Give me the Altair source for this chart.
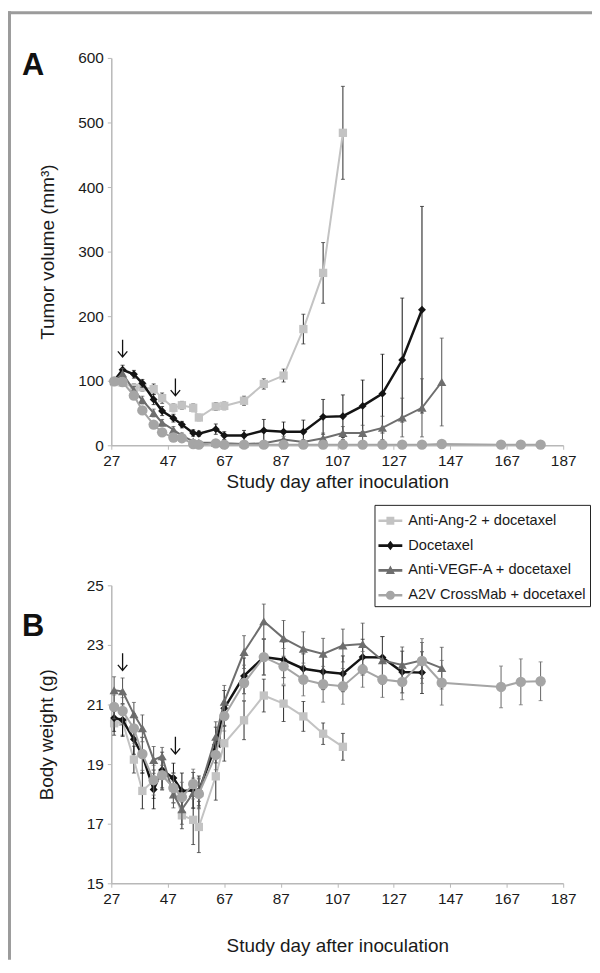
import altair as alt
import pandas as pd

# ---------------- data ----------------
SERIES = ["Anti-Ang-2 + docetaxel", "Docetaxel", "Anti-VEGF-A + docetaxel", "A2V CrossMab + docetaxel"]
COLORS = ["#c3c3c3", "#141414", "#6e6e6e", "#a5a5a5"]
ERR_COLORS = ["#2a2a2a", "#111111", "#4f4f4f", "#666666"]
SHAPES = ["square", "diamond", "triangle-up", "circle"]
MARKER_SIZES = [70, 64, 85, 110]
LINE_WIDTHS = [2, 2.5, 2, 2]
LEGEND_PATHS = [
    "M-1,-0.11L1,-0.11L1,0.11L-1,0.11Z M-0.33,-0.33L0.33,-0.33L0.33,0.33L-0.33,0.33Z",
    "M-1,-0.12L1,-0.12L1,0.12L-1,0.12Z M0,-0.4L0.3,0L0,0.4L-0.3,0Z",
    "M-1,-0.11L1,-0.11L1,0.11L-1,0.11Z M0,-0.42L0.38,0.3L-0.38,0.3Z",
    "M-1,-0.11L1,-0.11L1,0.11L-1,0.11Z M0.38,0A0.38,0.38 0 1,1 -0.38,0A0.38,0.38 0 1,1 0.38,0Z",
]
ARROW_PATH = "M0,-1L0,1M-0.55,0.35L0,1L0.55,0.35"

X_TICKS = [27, 47, 67, 87, 107, 127, 147, 167, 187]
A_Y_TICKS = [0, 100, 200, 300, 400, 500, 600]
B_Y_TICKS = [15, 17, 19, 21, 23, 25]

ANG2_DAYS = [28, 31, 35, 38, 42, 45, 49, 52, 56, 58, 64, 67, 74, 81, 88, 95, 102, 109]
DOC_DAYS = [28, 31, 35, 38, 42, 45, 49, 52, 56, 58, 64, 67, 74, 81, 88, 95, 102, 109, 116, 123, 130, 137]
VEGF_DAYS = [28, 31, 35, 38, 42, 45, 49, 52, 56, 58, 64, 67, 74, 81, 88, 95, 102, 109, 116, 123, 130, 137, 144]
A2V_DAYS = [28, 31, 35, 38, 42, 45, 49, 52, 56, 58, 64, 67, 74, 81, 88, 95, 102, 109, 116, 123, 130, 137, 144,
            165, 172, 179]

# Panel A: tumor volume (mm3)
ANG2_A = [98, 97, 89, 90, 87, 73, 58, 62, 58, 43, 60, 61, 69, 95, 108, 180, 267, 484]
ANG2_A_ERR = [4, 5, 6, 6, 8, 8, 6, 6, 6, 5, 6, 6, 7, 8, 10, 23, 47, 72]
DOC_A = [100, 117, 110, 96, 71, 53, 42, 32, 19, 18, 25, 15, 15, 23, 21, 21, 44, 45, 61, 80, 132, 210]
DOC_A_ERR = [4, 7, 6, 6, 8, 7, 6, 5, 5, 4, 8, 6, 8, 17, 15, 18, 27, 33, 40, 61, 96, 160]
VEGF_A = [100, 111, 85, 70, 50, 35, 24, 15, 6, 4, 4, 3, 2, 3, 9, 5, 11, 19, 19, 27, 43, 58, 98]
VEGF_A_ERR = [4, 8, 6, 6, 6, 5, 5, 4, 3, 2, 2, 2, 2, 3, 5, 4, 8, 10, 12, 18, 30, 45, 68]
A2V_A = [99, 98, 77, 54, 32, 20, 12, 11, 2, 1, 3, 1, 1, 1, 1, 1, 1, 1, 1, 1, 1, 1, 2, 1, 1, 1]
A2V_A_ERR = [4, 5, 6, 6, 5, 4, 3, 3, 1, 1, 2, 1, 1, 1, 1, 1, 1, 1, 1, 1, 1, 1, 1, 1, 1, 1]

# Panel B: body weight (g)
ANG2_B = [20.37, 20.42, 19.15, 18.1, 18.45, 18.64, 18.2, 17.28, 17.13, 16.89, 18.59, 19.7, 20.47, 21.3, 21.03,
          20.6, 20.02, 19.58]
ANG2_B_ERR = [0.4, 0.45, 0.45, 0.6, 0.6, 0.5, 0.5, 0.45, 0.83, 0.86, 0.8, 0.6, 0.65, 0.55, 0.6, 0.5, 0.36, 0.45]
DOC_B = [20.55, 20.48, 19.83, 19.3, 18.15, 18.8, 18.53, 18.1, 18.12, 18.1, 19.64, 20.87, 21.96, 22.59, 22.5,
         22.2, 22.1, 22.03, 22.59, 22.58, 22.09, 22.07]
DOC_B_ERR = [0.45, 0.55, 0.5, 0.6, 0.65, 0.6, 0.5, 0.6, 0.6, 0.5, 0.6, 0.6, 0.6, 0.6, 0.6, 0.5, 0.6, 0.6, 0.6,
             0.7, 0.7, 0.7]
VEGF_B = [21.48, 21.44, 20.67, 20.2, 19.14, 19.26, 17.98, 17.48, 18.03, 18.03, 19.92, 21.09, 22.76, 23.79,
          23.22, 22.87, 22.7, 22.98, 23.03, 22.48, 22.33, 22.48, 22.22]
VEGF_B_ERR = [0.45, 0.45, 0.4, 0.45, 0.45, 0.3, 0.45, 0.5, 0.5, 0.5, 0.5, 0.55, 0.55, 0.58, 0.6, 0.57, 0.52,
              0.55, 0.7, 0.8, 0.6, 0.6, 0.7]
A2V_B = [20.92, 20.78, 20.2, 19.34, 18.46, 18.63, 18.2, 17.89, 18.33, 18.0, 19.31, 20.61, 21.72, 22.59, 22.28,
         21.84, 21.68, 21.61, 22.18, 21.84, 21.76, 22.46, 21.73, 21.59, 21.76, 21.78]
A2V_B_ERR = [0.4, 0.45, 0.5, 0.55, 0.5, 0.5, 0.5, 0.5, 0.5, 0.5, 0.5, 0.5, 0.6, 0.6, 0.6, 0.55, 0.6, 0.6, 0.6,
             0.6, 0.6, 0.75, 0.75, 0.7, 0.77, 0.65]

# Treatment arrows
ARROW_A_DAYS = [31, 49.7]
ARROW_A_VALUES = [150, 90]
ARROW_B_DAYS = [31, 49.7, 65.5]
ARROW_B_VALUES = [22.43, 19.63, 19.85]

FONT = "Liberation Sans"
FRAME_COLOR = "#9b9b9b"
ALL_DAYS = [ANG2_DAYS, DOC_DAYS, VEGF_DAYS, A2V_DAYS]


def long_df(vals_list, errs_list):
    rows = []
    for name, ecol, days, vals, errs in zip(SERIES, ERR_COLORS, ALL_DAYS, vals_list, errs_list):
        for d, v, e in zip(days, vals, errs):
            rows.append({"series": name, "day": d, "value": v, "lo": v - e, "hi": v + e, "ecol": ecol})
    return pd.DataFrame(rows)


df_a = long_df([ANG2_A, DOC_A, VEGF_A, A2V_A], [ANG2_A_ERR, DOC_A_ERR, VEGF_A_ERR, A2V_A_ERR])
df_b = long_df([ANG2_B, DOC_B, VEGF_B, A2V_B], [ANG2_B_ERR, DOC_B_ERR, VEGF_B_ERR, A2V_B_ERR])
arrows_a = pd.DataFrame({"day": ARROW_A_DAYS, "value": ARROW_A_VALUES})
arrows_b = pd.DataFrame({"day": ARROW_B_DAYS, "value": ARROW_B_VALUES})

LEGEND = alt.Legend(
    orient="none", legendX=265, legendY=-81, title=None,
    strokeColor="#222222", fillColor="white", padding=4, rowPadding=6,
    symbolSize=576, symbolStrokeWidth=0, symbolOpacity=1, labelLimit=400,
    labelFont=FONT, labelFontSize=14.7, labelColor="#1a1a1a", labelOffset=6,
)


def build_panel(df, ydom, yticks, ytitle, height, ytitlepad, xtitlepad, arrows_df, letter, letter_y,
                frame_rects, with_legend):
    xs = alt.Scale(domain=[27, 187], nice=False, zero=False)
    ys = alt.Scale(domain=ydom, nice=False, zero=False)
    x_axis = alt.Axis(values=X_TICKS, title="Study day after inoculation", titlePadding=xtitlepad,
                      labelPadding=4, labelFlush=False, grid=False)
    y_axis = alt.Axis(values=yticks, title=ytitle, titlePadding=ytitlepad, labelPadding=4, grid=False)

    def X(field="day:Q"):
        return alt.X(field, scale=xs, axis=x_axis)

    def Y(field):
        return alt.Y(field, scale=ys, axis=y_axis)

    one = pd.DataFrame({"k": [0]})
    layers = []
    for (x1, x2, y1, y2) in frame_rects:
        layers.append(alt.Chart(one).mark_rect(color=FRAME_COLOR).encode(
            x=alt.value(x1), x2=alt.value(x2), y=alt.value(y1), y2=alt.value(y2)))
    layers.append(alt.Chart(pd.DataFrame({"t": [letter]})).mark_text(
        font=FONT, fontSize=31, fontWeight="bold", align="left", baseline="alphabetic", color="#111111"
    ).encode(text="t:N", x=alt.value(-90), y=alt.value(letter_y)))
    layers.append(alt.Chart(arrows_df).mark_point(
        shape=ARROW_PATH, size=300, filled=False, color="#111111", strokeWidth=1.3, opacity=1
    ).encode(x=X("day:Q"), y=Y("value:Q")))

    for i, name in enumerate(SERIES):
        sdf = df[df["series"] == name]
        ecol = ERR_COLORS[i]
        layers.append(alt.Chart(sdf).mark_rule(strokeWidth=1, color=ecol).encode(
            x=X(), y=Y("lo:Q"), y2="hi:Q"))
        layers.append(alt.Chart(sdf).transform_fold(["lo", "hi"], as_=["end", "ev"]).mark_tick(
            orient="horizontal", size=4, thickness=1, color=ecol).encode(x=X(), y=Y("ev:Q")))
        layers.append(alt.Chart(sdf).mark_line(color=COLORS[i], strokeWidth=LINE_WIDTHS[i]).encode(
            x=X(), y=Y("value:Q")))
        layers.append(alt.Chart(sdf).mark_point(
            shape=SHAPES[i], filled=True, size=MARKER_SIZES[i], color=COLORS[i], opacity=1
        ).encode(x=X(), y=Y("value:Q")))

    if with_legend:
        ldf = df.groupby("series", sort=False).head(1)
        layers.append(alt.Chart(ldf).mark_point(filled=True, opacity=0, size=576).encode(
            x=X(), y=Y("value:Q"),
            color=alt.Color("series:N", scale=alt.Scale(domain=SERIES, range=COLORS), legend=LEGEND),
            shape=alt.Shape("series:N", scale=alt.Scale(domain=SERIES, range=LEGEND_PATHS), legend=LEGEND),
        ))
    return alt.layer(*layers).properties(width=455, height=height)


panel_a = build_panel(
    df_a, [0, 600], A_Y_TICKS, "Tumor volume (mm\u00b3)", 390, 20, 4.5, arrows_a, "A", 17,
    [(-104, 484, -47, -44), (-104, -101, -47, 445)], False)
panel_b = build_panel(
    df_b, [15, 25], B_Y_TICKS, "Body weight (g)", 300, 30, 30, arrows_b, "B", 51,
    [(-104, -101, -86, 377)], True)

chart = alt.vconcat(panel_a, panel_b, spacing=0).resolve_scale(
    color="independent", shape="independent"
).properties(padding={"left": 0, "top": 0, "right": 0, "bottom": 0}).configure_view(
    stroke=None
).configure_axis(
    domainColor="#b8b8b8", domainWidth=1.5, tickColor="#b8b8b8", tickWidth=1, tickSize=4,
    labelFont=FONT, labelFontSize=15.5, labelColor="#1a1a1a",
    titleFont=FONT, titleFontSize=19, titleFontWeight="normal", titleColor="#1a1a1a",
)

chart.save("out.html", embed_options={"renderer": "svg", "actions": False})
